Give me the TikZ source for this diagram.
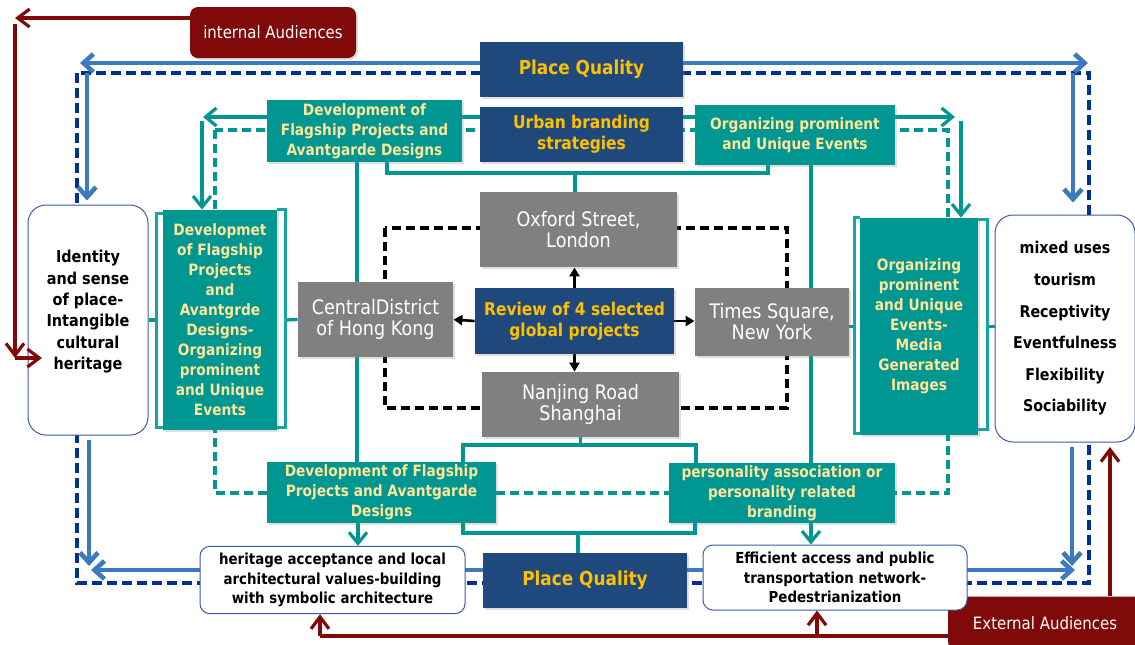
\documentclass[tikz,border=0pt]{standalone}
\usepackage{fontspec}
\setmainfont{DejaVu Sans}[FakeStretch=0.88]
\usepackage{tikz}
\usetikzlibrary{arrows.meta}
\usetikzlibrary{shadows}
\usetikzlibrary{backgrounds}
\definecolor{qblue}{RGB}{31,73,125}
\definecolor{qyellow}{RGB}{255,192,0}
\definecolor{qteal}{RGB}{0,150,145}
\definecolor{qbrk}{RGB}{20,165,165}
\definecolor{qcream}{RGB}{255,230,153}
\definecolor{qgray}{RGB}{128,128,128}
\definecolor{qsteel}{RGB}{60,122,192}
\definecolor{qnavy}{RGB}{0,48,150}
\definecolor{qred}{RGB}{128,10,10}
\definecolor{qedge}{RGB}{60,90,170}
\newcommand{\yfont}{\bfseries\fontsize{8.8}{10.5}\selectfont}
\newcommand{\tfont}{\bfseries\fontsize{7.8}{10}\selectfont}
\newcommand{\gfont}{\fontsize{10}{10.5}\selectfont}
\newcommand{\kfont}{\bfseries\fontsize{7.6}{9.8}\selectfont}

\begin{document}
\begin{tikzpicture}[x=0.5pt,y=-0.5pt]

    % one unit is one pixel of the reference, y running down
    \tikzset{
        box/.style={rectangle, inner sep=1pt, align=center,
            drop shadow={opacity=0.25, shadow xshift=1pt, shadow yshift=-1pt}},
        bluebox/.style={box, fill=qblue, text=qyellow, font=\yfont},
        tealbox/.style={box, fill=qteal, text=qcream, font=\tfont},
        graybox/.style={box, fill=qgray, text=white, font=\gfont},
        whitebox/.style={rectangle, rounded corners=5pt, draw=qedge,
            line width=0.5pt, fill=white, align=center, font=\kfont},
        redbox/.style={rectangle, rounded corners=4pt, fill=qred,
            text=white, font=\fontsize{8.5}{10}\selectfont,
            drop shadow={opacity=0.25, shadow xshift=1pt, shadow yshift=-1pt}},
        bluearrow/.style={qsteel, line width=2.3pt,
            >={Straight Barb[length=5pt, width=9pt]}},
        navydash/.style={qnavy, line width=1.8pt, dash pattern=on 5pt off 2.5pt},
        tealline/.style={qteal, line width=1.6pt,
            >={Straight Barb[length=5.5pt, width=9pt]}},
        tealdash/.style={qteal, line width=1.6pt, dash pattern=on 4.5pt off 2.5pt},
        tealbrk/.style={qbrk, line width=1.3pt},
        blackdash/.style={black, line width=1.6pt, dash pattern=on 4.5pt off 2.5pt},
        blackarrow/.style={black, line width=1.3pt, ->,
            >={Triangle[length=4.5pt, width=5pt]}},
        redarrow/.style={qred, line width=1.6pt,
            >={Straight Barb[length=6pt, width=9pt]}},
    }

    \useasboundingbox (0,0) rectangle (1135,644);

    % boxes
    \begin{scope}

        \node[redbox, minimum width=83pt, minimum height=25.5pt]
            (intaud) at (273,32.5) {internal Audiences};
        \node[redbox, minimum width=97pt, minimum height=26.5pt]
            (extaud) at (1045,623) {External Audiences};

        \node[bluebox, font=\bfseries\fontsize{9.6}{11}\selectfont,
            minimum width=101.5pt, minimum height=27.5pt]
            (pqtop) at (581.5,69.5) {Place Quality};
        \node[bluebox, minimum width=101.5pt, minimum height=27.5pt]
            (ubs) at (581.5,134.5) {Urban branding\\strategies};
        \node[tealbox, minimum width=97.5pt, minimum height=31pt]
            (dfltop) at (364.5,131)
            {Development of\\Flagship Projects and\\Avantgarde Designs};
        \node[tealbox, minimum width=100pt, minimum height=30pt]
            (opetop) at (795,135)
            {Organizing prominent\\and Unique Events};

        \node[whitebox, rounded corners=9pt, font=\bfseries\fontsize{8.2}{10.7}\selectfont,
            minimum width=60pt, minimum height=115pt]
            (ident) at (88,320)
            {Identity\\and sense\\of place-\\Intangible\\cultural\\heritage\\[-0.7pt]\mbox{}};
        \node[tealbox, minimum width=57pt, minimum height=110pt]
            (dmix) at (220,320)
            {Developmet\\of Flagship\\Projects\\and\\Avantgrde\\Designs-\\Organizing\\prominent\\and Unique\\Events};
        \node[graybox, minimum width=77.5pt, minimum height=37.5pt]
            (central) at (375.5,319.5) {CentralDistrict\\of Hong Kong};
        \node[graybox, minimum width=98.5pt, minimum height=37.5pt]
            (oxford) at (578.5,229.5) {Oxford Street,\\London};
        \node[bluebox, minimum width=99.5pt, minimum height=33pt]
            (review) at (574.5,321) {Review of 4 selected\\global projects};
        \node[graybox, minimum width=77pt, minimum height=34pt]
            (times) at (772,322) {Times Square,\\New York};
        \node[graybox, minimum width=98.5pt, minimum height=32.5pt]
            (nanjing) at (580.5,404.5) {Nanjing Road\\Shanghai};
        \node[tealbox, minimum width=59pt, minimum height=108.5pt]
            (omedia) at (919,326.5)
            {Organizing\\prominent\\and Unique\\Events-\\Media\\Generated\\Images};
        \node[whitebox, rounded corners=9pt, font=\bfseries\fontsize{8.1}{15.8}\selectfont,
            minimum width=70pt, minimum height=113.5pt]
            (mixed) at (1065,328.5)
            {mixed uses\\tourism\\Receptivity\\Eventfulness\\Flexibility\\Sociability};

        \node[tealbox, minimum width=114.5pt, minimum height=30.5pt]
            (dflbot) at (381.5,492.5)
            {Development of Flagship\\Projects and Avantgarde\\Designs};
        \node[tealbox, minimum width=113pt, minimum height=30pt]
            (pers) at (782,493)
            {personality association or\\personality related\\branding};

        \node[whitebox, minimum width=132.5pt, minimum height=33pt]
            (herit) at (332.5,580)
            {heritage acceptance and local\\architectural values-building\\with symbolic architecture};
        \node[bluebox, font=\bfseries\fontsize{9.6}{11}\selectfont,
            minimum width=102pt, minimum height=27.5pt]
            (pqbot) at (585,580.5) {Place Quality};
        \node[whitebox, minimum width=132pt, minimum height=32.5pt]
            (effic) at (835,577.5)
            {Efficient access and public\\transportation network-\\Pedestrianization};
    \end{scope}

    % free ends of the connectors
    \coordinate (btl) at (80,63);
    \coordinate (btr) at (1088,63);
    \coordinate (bvl) at (87,73);
    \coordinate (bvr) at (1073,73);
    \coordinate (bbl) at (91,570);
    \coordinate (bbr) at (1075,570);
    \coordinate (bul) at (89,440);
    \coordinate (bur) at (1072,447);
    \coordinate (tsl) at (203,117);
    \coordinate (tsr) at (955,117);
    \coordinate (tvl) at (202,121);
    \coordinate (tvr) at (961,121);
    \coordinate (tb1) at (387,173);
    \coordinate (tb2) at (768,173);
    \coordinate (bb1) at (463,445);
    \coordinate (bb2) at (696,445);
    \coordinate (bc1) at (463,533);
    \coordinate (bc2) at (695,533);
    \coordinate (rtl) at (15,18);
    \coordinate (rl1) at (15,24);
    \coordinate (rl2) at (15,358);
    \coordinate (rin) at (42,358);
    \coordinate (rb1) at (320,636);
    \coordinate (rb2) at (817,636);
    \coordinate (rr) at (1110,447);

    \begin{scope}[on background layer]

        % place quality loop
        \draw[navydash] (77,73) rectangle (1089,583);
        \draw[bluearrow, <->] (btl) -- (btr);
        \draw[bluearrow, ->] (bvl) -- ([yshift=2pt]bvl |- ident.north);
        \draw[bluearrow, ->] (bvr) -- ([yshift=6pt]bvr |- mixed.north);
        \draw[bluearrow, <->] (bbl) -- (bbr);
        \draw[bluearrow, ->] (bul) -- ([yshift=2pt]bul |- bbl);
        \draw[bluearrow, ->] (bur) -- ([yshift=2pt]bur |- bbr);

        % branding strategies
        \draw[tealdash] (215,130) rectangle (948,493);
        \draw[tealline, <->] (tsl) -- (tsr);
        \draw[tealline, ->] (tvl) -- (tvl |- dmix.north);
        \draw[tealline, ->] (tvr) -- (tvr |- omedia.north);
        \draw[tealline] ([xshift=-3.75pt]dfltop.south)
            -- ([xshift=-3.75pt]dfltop.south |- dflbot.north);
        \draw[tealline] ([xshift=8pt]opetop.south)
            -- ([xshift=8pt]opetop.south |- pers.north);
        \draw[tealline, ->] ([xshift=-11.75pt]dflbot.south)
            -- ([xshift=-11.75pt]dflbot.south |- herit.north);
        \draw[tealline, ->] ([xshift=14.5pt]pers.south)
            -- ([xshift=14.5pt]pers.south |- effic.north);

        \draw[tealline] (tb1 |- dfltop.south) -- (tb1) -- (tb2) -- (tb2 |- opetop.south);
        \draw[tealline] ([xshift=-1.75pt]oxford.north |- tb1) -- ([xshift=-1.75pt]oxford.north);
        \draw[tealline] (bb1 |- dflbot.north) -- (bb1) -- (bb2) -- (bb2 |- pers.north);
        \draw[tealline] (nanjing.south) -- (nanjing.south |- bb1);
        \draw[tealline] (bc1 |- dflbot.south) -- (bc1) -- (bc2) -- (bc2 |- pers.south);
        \draw[tealline] ([xshift=-3.5pt]pqbot.north |- bc1) -- ([xshift=-3.5pt]pqbot.north);

        \draw[tealline] (ident.east) -- ([xshift=-3pt]dmix.west);
        \draw[tealline] ([xshift=4pt]dmix.east) -- (central.west);
        \draw[tealline] (omedia.west -| times.east) -- ([xshift=-2.5pt]omedia.west);
        \draw[tealline] ([xshift=4.5pt]omedia.east) -- (omedia.east -| mixed.west);

        % the four projects
        \draw[blackdash] (385,228) rectangle (787,408);
        \draw[blackarrow] (review.north) -- (review.north |- oxford.south);
        \draw[blackarrow] (review.west) -- (central.east);
        \draw[blackarrow] (review.east) -- (review.east -| times.west);
        \draw[blackarrow] (review.south) -- (review.south |- nanjing.north);

        % audiences
        \draw[redarrow, ->] ([yshift=7.25pt]intaud.west) -- (rtl);
        \draw[redarrow, ->] (rl1) -- (rl2);
        \draw[redarrow] (rb1) -- (rb1 -| extaud.west);
        \draw[redarrow, ->] (rb1) -- (rb1 |- herit.south);
        \draw[redarrow, ->] (rb2) -- (rb2 |- effic.south);
        \draw[redarrow, ->] (rr |- extaud.north) -- (rr);
    \end{scope}

    % red arrow reaching into the identity box
    \draw[redarrow, ->] (rl2) -- (rin);

    % brackets round the two tall boxes
    \draw[tealbrk] ([yshift=-2pt]dmix.north west) -- ++(-3pt,0)
        |- ([yshift=1.5pt]dmix.south west);
    \draw[tealbrk] (dmix.north east) -- ++(4pt,0) |- ([yshift=1.5pt]dmix.south east);
    \draw[tealbrk] (omedia.north west) -- ++(-2.5pt,0) |- ([yshift=1pt]omedia.south west);
    \draw[tealbrk] ([yshift=-1pt]omedia.north east) -- ++(4.5pt,0)
        |- ([yshift=3pt]omedia.south east);

\end{tikzpicture}
\end{document}
